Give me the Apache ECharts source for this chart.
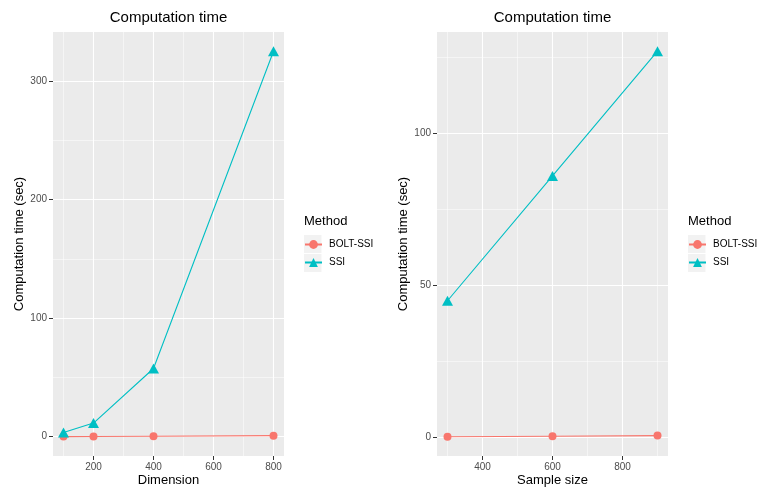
<!DOCTYPE html>
<html>
<head>
<meta charset="utf-8">
<script src="https://cdn.jsdelivr.net/npm/echarts@6/dist/echarts.min.js"></script>
<style>
html,body{margin:0;padding:0;background:#fff;}
#c{width:764px;height:488px;}
</style>
</head>
<body>
<div id="c"></div>
<script>
// ---- data ----
var dimensions = [100, 200, 400, 800];
var dimBolt = [0.1, 0.2, 0.4, 0.9];
var dimSsi = [3.5, 11.5, 57.5, 325];
var sampleSizes = [300, 600, 900];
var sampBolt = [0.3, 0.5, 0.7];
var sampSsi = [45, 86, 127];

var leftXTicks = [200, 400, 600, 800];
var leftXMinor = [100, 300, 500, 700];
var leftYTicks = [0, 100, 200, 300];
var leftYMinor = [50, 150, 250];
var rightXTicks = [400, 600, 800];
var rightXMinor = [300, 500, 700, 900];
var rightYTicks = [0, 50, 100];
var rightYMinor = [25, 75, 125];

var seriesNames = ['BOLT-SSI', 'SSI'];
var colors = ['#F8766D', '#00BFC4'];

function pairs(xs, ys) { return xs.map(function (x, i) { return [x, ys[i]]; }); }

var FONT = 'Liberation Sans, Arial, Helvetica, sans-serif';

function xAxisDef(idx, min, max, ticks, name) {
  return {
    type: 'value', gridIndex: idx, min: min, max: max, position: 'bottom',
    name: name, nameLocation: 'middle', nameGap: 18, nameMoveOverlap: false,
    nameTextStyle: { fontFamily: FONT, fontSize: 13, color: '#000' },
    axisLine: { show: false, onZero: false },
    axisTick: { show: true, length: 4, lineStyle: { color: '#333333', width: 1 }, customValues: ticks },
    axisLabel: { customValues: ticks, fontFamily: FONT, fontSize: 10, color: '#4D4D4D', margin: 6 },
    splitLine: { show: false }
  };
}
function yAxisDef(idx, min, max, ticks, name) {
  return {
    type: 'value', gridIndex: idx, min: min, max: max, position: 'left',
    name: name, nameLocation: 'middle', nameGap: 27, nameRotate: 90, nameMoveOverlap: false,
    nameTextStyle: { fontFamily: FONT, fontSize: 13, color: '#000' },
    axisLine: { show: false, onZero: false },
    axisTick: { show: true, length: 4, lineStyle: { color: '#333333', width: 1 }, customValues: ticks },
    axisLabel: { customValues: ticks, fontFamily: FONT, fontSize: 10, color: '#4D4D4D', margin: 6 },
    splitLine: { show: false }
  };
}
function gridLines(xMaj, xMin, yMaj, yMin) {
  var d = [];
  xMin.forEach(function (v) { d.push({ xAxis: v, lineStyle: { width: 0.5 } }); });
  yMin.forEach(function (v) { d.push({ yAxis: v, lineStyle: { width: 0.5 } }); });
  xMaj.forEach(function (v) { d.push({ xAxis: v, lineStyle: { width: 1.1 } }); });
  yMaj.forEach(function (v) { d.push({ yAxis: v, lineStyle: { width: 1.1 } }); });
  return d;
}
function gridSeries(idx, xMaj, xMin, yMaj, yMin) {
  return {
    type: 'line', xAxisIndex: idx, yAxisIndex: idx, data: [], z: 0, silent: true,
    markLine: {
      z: 0, silent: true, symbol: 'none', label: { show: false }, animation: false,
      lineStyle: { color: '#FFFFFF', type: 'solid' },
      emphasis: { disabled: true },
      data: gridLines(xMaj, xMin, yMaj, yMin)
    }
  };
}
function dataSeries(idx, name, data, color, symbol, size) {
  return {
    type: 'line', name: name, xAxisIndex: idx, yAxisIndex: idx, data: data, z: 6,
    color: color, symbol: symbol, symbolSize: size, showAllSymbol: true,
    lineStyle: { color: color, width: 1.1 },
    itemStyle: { color: color }, animation: false
  };
}

var chart = echarts.init(document.getElementById('c'), null, { renderer: 'canvas' });

var legendBase = {
  orient: 'vertical', itemWidth: 17, itemHeight: 11, itemGap: 8,
  data: seriesNames, selectedMode: false,
  textStyle: { fontFamily: FONT, fontSize: 10, color: '#000', padding: [0, 0, 0, 2] },
  padding: 0
};

var option = {
  animation: false,
  backgroundColor: '#FFFFFF',
  grid: [
    { left: 53, top: 32, width: 231, height: 424, show: true, backgroundColor: '#EBEBEB', borderWidth: 0, containLabel: false, outerBoundsMode: 'none' },
    { left: 437, top: 32, width: 231, height: 424, show: true, backgroundColor: '#EBEBEB', borderWidth: 0, containLabel: false, outerBoundsMode: 'none' }
  ],
  xAxis: [
    xAxisDef(0, 65, 835, leftXTicks, 'Dimension'),
    xAxisDef(1, 270, 930, rightXTicks, 'Sample size')
  ],
  yAxis: [
    yAxisDef(0, -16.25, 341.25, leftYTicks, 'Computation time (sec)'),
    yAxisDef(1, -6, 133.3, rightYTicks, 'Computation time (sec)')
  ],
  legend: [
    Object.assign({}, legendBase, { left: 304, top: 239.5 }),
    Object.assign({}, legendBase, { left: 688, top: 239.5 })
  ],
  graphic: [
    { type: 'rect', left: 304, top: 235, shape: { width: 17.5, height: 18 }, style: { fill: '#F2F2F2' }, z: -1 },
    { type: 'rect', left: 304, top: 254, shape: { width: 17.5, height: 18 }, style: { fill: '#F2F2F2' }, z: -1 },
    { type: 'rect', left: 688, top: 235, shape: { width: 17.5, height: 18 }, style: { fill: '#F2F2F2' }, z: -1 },
    { type: 'rect', left: 688, top: 254, shape: { width: 17.5, height: 18 }, style: { fill: '#F2F2F2' }, z: -1 },
    { type: 'text', x: 168.5, y: 18, style: { text: 'Computation time', fontFamily: FONT, fontSize: 15, fill: '#000', align: 'center', verticalAlign: 'middle' } },
    { type: 'text', x: 552.5, y: 18, style: { text: 'Computation time', fontFamily: FONT, fontSize: 15, fill: '#000', align: 'center', verticalAlign: 'middle' } },
    { type: 'text', x: 304, y: 221, style: { text: 'Method', fontFamily: FONT, fontSize: 13, fill: '#000', align: 'left', verticalAlign: 'middle' } },
    { type: 'text', x: 688, y: 221, style: { text: 'Method', fontFamily: FONT, fontSize: 13, fill: '#000', align: 'left', verticalAlign: 'middle' } }
  ],
  series: [
    gridSeries(0, leftXTicks, leftXMinor, leftYTicks, leftYMinor),
    gridSeries(1, rightXTicks, rightXMinor, rightYTicks, rightYMinor),
    dataSeries(0, seriesNames[0], pairs(dimensions, dimBolt), colors[0], 'circle', 8),
    dataSeries(0, seriesNames[1], pairs(dimensions, dimSsi), colors[1], 'triangle', [11, 10]),
    dataSeries(1, seriesNames[0], pairs(sampleSizes, sampBolt), colors[0], 'circle', 8),
    dataSeries(1, seriesNames[1], pairs(sampleSizes, sampSsi), colors[1], 'triangle', [11, 10])
  ]
};
chart.setOption(option);
</script>
</body>
</html>
